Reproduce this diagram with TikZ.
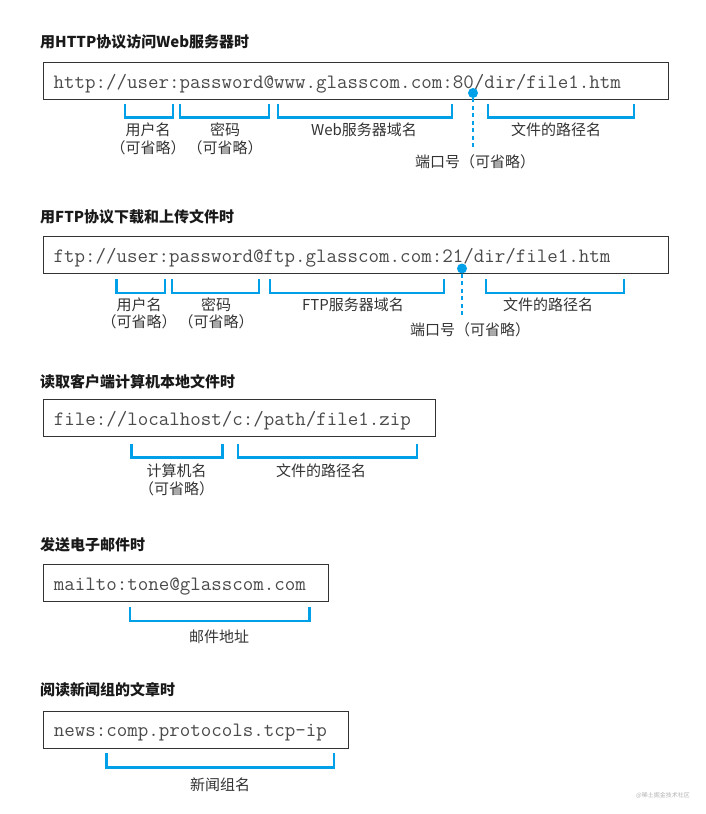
\documentclass[tikz,border=0pt]{standalone}
\usepackage{fontspec}
\setmainfont{Noto Sans CJK SC}
\usepackage{tikz}
\usetikzlibrary{positioning}
\definecolor{uriblue}{HTML}{00A0E9}
\definecolor{boxline}{HTML}{333333}
\definecolor{labelgray}{HTML}{333333}
\definecolor{urlgray}{HTML}{4A4A4A}

\begin{document}
\begin{tikzpicture}[x=1pt, y=-1pt,
  title/.style={anchor=west, inner sep=0pt, font=\fontsize{15}{18}\selectfont\bfseries, text=black!90},
  urlbox/.style={draw=boxline, line width=1.1pt, anchor=north west, minimum height=37pt, inner xsep=10.5pt, inner ysep=0pt, align=left, text=urlgray, font=\fontsize{20.4}{24}\selectfont\ttfamily, text height=19pt, text depth=5pt},
  brk/.style={draw=uriblue, line width=2.6pt},
  lbl/.style={anchor=north, inner sep=0pt, align=center, text=labelgray, font=\fontsize{15}{17.3}\selectfont},
  portdot/.style={circle, fill=uriblue, inner sep=0pt, minimum size=10pt},
  portline/.style={draw=uriblue, line width=2pt, dash pattern=on 4pt off 3.5pt},
]
\useasboundingbox (0,0) rectangle (705,814);

% HTTP
\node[title] (t1) at (40,42) {用HTTP协议访问Web服务器时};
\node[urlbox, text width=604pt] (http) at (42.5,62) {http://user:password@www.glasscom.com:80/dir/file1.htm};
\draw[brk] (125,103.5) |- (173,117.5) -- (173,103.5);
\draw[brk] (180,103.5) |- (269,117.5) -- (269,103.5);
\draw[brk] (278,103.5) |- (452,117.5) -- (452,103.5);
\draw[brk] (488,103.5) |- (634,117.5) -- (634,103.5);
\node[lbl] (user1) at (148,123) {用户名\\（可省略）};
\node[lbl] (pass1) at (225,123) {密码\\（可省略）};
\node[lbl] (host1) at (364,123) {Web服务器域名};
\node[lbl] (path1) at (556,123) {文件的路径名};
\node[portdot] (dot1) at (473,93) {};
\node[lbl] (port1) at (475,154) {端口号（可省略）};
\draw[portline, shorten >=7pt] (dot1) -- (dot1 |- port1.north);

% FTP
\node[title] (t2) at (40,217) {用FTP协议下载和上传文件时};
\node[urlbox, text width=604pt] (ftp) at (42.5,236) {ftp://user:password@ftp.glasscom.com:21/dir/file1.htm};
\draw[brk] (116.5,279) |- (165,293) -- (165,279);
\draw[brk] (172,279) |- (259,293) -- (259,279);
\draw[brk] (270,279) |- (444,293) -- (444,279);
\draw[brk] (486,279) |- (624,293) -- (624,279);
\node[lbl] (user2) at (139,297.5) {用户名\\（可省略）};
\node[lbl] (pass2) at (216,297.5) {密码\\（可省略）};
\node[lbl] (host2) at (353,297.5) {FTP服务器域名};
\node[lbl] (path2) at (548,297.5) {文件的路径名};
\node[portdot] (dot2) at (462,268.5) {};
\node[lbl] (port2) at (470,322.5) {端口号（可省略）};
\draw[portline, shorten >=7pt] (dot2) -- (dot2 |- port2.north);

% local file
\node[title] (t3) at (40,381.7) {读取客户端计算机本地文件时};
\node[urlbox, text width=371.3pt] (file) at (42.7,399) {file://localhost/c:/path/file1.zip};
\draw[brk] (131.7,444) |- (222.7,457.3) -- (222.7,444);
\draw[brk] (238,444) |- (417,457.3) -- (417,444);
\node[lbl] (pc3) at (176.7,464) {计算机名\\（可省略）};
\node[lbl] (path3) at (321,464) {文件的路径名};

% mail
\node[title] (t4) at (40,545) {发送电子邮件时};
\node[urlbox, text width=264.6pt] (mail) at (42.7,564.3) {mailto:tone@glasscom.com};
\draw[brk] (130,607.3) |- (309.3,621) -- (309.3,607.3);
\node[lbl] (addr4) at (219,629.5) {邮件地址};

% news
\node[title] (t5) at (40,690) {阅读新闻组的文章时};
\node[urlbox, text width=284.6pt] (news) at (42.7,710.7) {news:comp.protocols.tcp-ip};
\draw[brk] (106.7,753.3) |- (334,767.3) -- (334,753.3);
\node[lbl] (group5) at (220,777.3) {新闻组名};

\node[font=\fontsize{6}{7}\selectfont, text=gray!60] (mark) at (663,795) {@稀土掘金技术社区};
\end{tikzpicture}
\end{document}
